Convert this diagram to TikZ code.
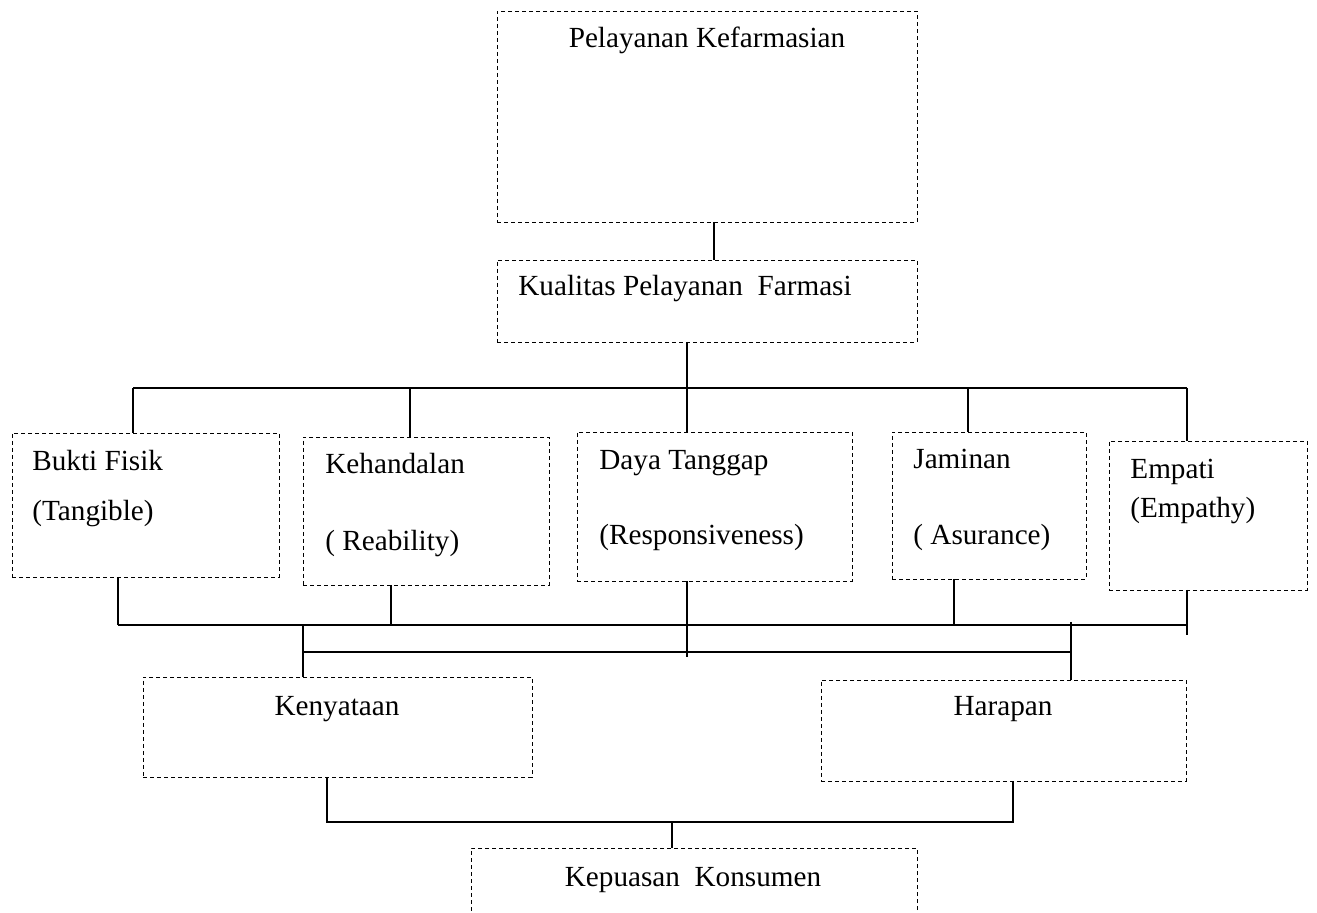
\documentclass[tikz,border=0pt]{standalone}
\usepackage{fontspec}
\setmainfont{Liberation Serif}
\usetikzlibrary{positioning}
\usetikzlibrary{calc}

\begin{document}
\begin{tikzpicture}[x=0.5pt, y=-0.5pt
  , box/.style={ draw, dash pattern=on 2pt off 1.5pt
               , line width=0.45pt, anchor=north west
               , inner sep=0pt, outer sep=0pt
               }
  , link/.style={line width=0.8pt}
  , txt/.style={font=\fontsize{14.6}{18}\selectfont, inner sep=0pt}]

  \clip (0,0) rectangle (1317,913);
  \fill[white] (0,0) rectangle (1317,913);

  % boxes
  \node[box, minimum width=210pt, minimum height=105.5pt] (pelayanan) at (497,11) {};
  \node[box, minimum width=210pt, minimum height=41pt] (kualitas) at (497,260) {};

  \node[box, minimum width=133.5pt, minimum height=72pt] (bukti) at (12,433) {};
  \node[box, minimum width=123pt, minimum height=74pt] (kehandalan) at (303,437) {};
  \node[box, minimum width=137.5pt, minimum height=74.5pt] (daya) at (577,432) {};
  \node[box, minimum width=97pt, minimum height=73.5pt] (jaminan) at (892,432) {};
  \node[box, minimum width=99pt, minimum height=74.5pt] (empati) at (1109,441) {};

  \node[box, minimum width=194.5pt, minimum height=50pt] (kenyataan) at (143,677) {};
  \node[box, minimum width=182.5pt, minimum height=50.5pt] (harapan) at (821,680) {};
  \node[box, minimum width=223pt, minimum height=46pt] (kepuasan) at (471,848) {};

  % texts
  \node[txt, anchor=base] (pelayanan-t) at (707,48) {Pelayanan Kefarmasian};
  \node[txt, anchor=base west] (kualitas-t) at (518,296) {Kualitas Pelayanan\ \ Farmasi};

  \node[txt, anchor=base west] (bukti-a) at (32,471) {Bukti Fisik};
  \node[txt, anchor=base west] (bukti-b) at (32,521) {(Tangible)};
  \node[txt, anchor=base west] (kehandalan-a) at (325,474) {Kehandalan};
  \node[txt, anchor=base west] (kehandalan-b) at (325,551) {( Reability)};
  \node[txt, anchor=base west] (daya-a) at (599,470) {Daya Tanggap};
  \node[txt, anchor=base west] (daya-b) at (599,545) {(Responsiveness)};
  \node[txt, anchor=base west] (jaminan-a) at (913,469) {Jaminan};
  \node[txt, anchor=base west] (jaminan-b) at (913,545) {( Asurance)};
  \node[txt, anchor=base west] (empati-a) at (1130,479) {Empati};
  \node[txt, anchor=base west] (empati-b) at (1130,518) {(Empathy)};

  \node[txt, anchor=base] (kenyataan-t) at (337,716) {Kenyataan};
  \node[txt, anchor=base] (harapan-t) at (1003,716) {Harapan};
  \node[txt, anchor=base] (kepuasan-t) at (693,886) {Kepuasan\ \ Konsumen};

  % upper tree
  \coordinate (hub) at (687,388);
  \coordinate (top-w) at (133,388);
  \coordinate (top-e) at (1187,388);
  \coordinate (k-up) at (410,388);
  \coordinate (j-up) at (968,388);

  \draw[link] ($(pelayanan.south)+(7,0)$) -- ($(kualitas.north)+(7,0)$);
  \draw[link] (kualitas.south -| hub) -- (daya.north -| hub);
  \draw[link] (top-w) -- (top-e);
  \draw[link] (top-w) -- (top-w |- bukti.north);
  \draw[link] (k-up) -- (k-up |- kehandalan.north);
  \draw[link] (j-up) -- (j-up |- jaminan.north);
  \draw[link] (top-e) -- (top-e |- empati.north);

  % lower tree
  \coordinate (mid-w) at (118,625);
  \coordinate (mid-e) at (1187,625);
  \coordinate (k-dn) at (391,625);
  \coordinate (j-dn) at (954,625);
  \coordinate (hub-dn) at (687,657);
  \coordinate (low-w) at (303,652);
  \coordinate (low-e) at (1071,652);

  \draw[link] (mid-w) -- (mid-e);
  \draw[link] (bukti.south -| mid-w) -- (mid-w);
  \draw[link] (k-dn |- kehandalan.south) -- (k-dn);
  \draw[link] (daya.south -| hub-dn) -- (hub-dn);
  \draw[link] (j-dn |- jaminan.south) -- (j-dn);
  \draw[link] (empati.south -| mid-e) -- ($(mid-e)+(0,10)$);

  \draw[link] (low-w) -- (low-e);
  \draw[link] (low-w |- mid-w) -- (low-w |- kenyataan.north);
  \draw[link] ($(low-e |- mid-w)+(0,-3)$) -- (low-e |- harapan.north);

  \coordinate (base-w) at (327,822);
  \coordinate (base-e) at (1013,822);
  \coordinate (base-m) at (672,822);

  \draw[link] (base-w |- kenyataan.south) -- (base-w) -- (base-e) -- (base-e |- harapan.south);
  \draw[link] (base-m) -- (base-m |- kepuasan.north);

\end{tikzpicture}
\end{document}
